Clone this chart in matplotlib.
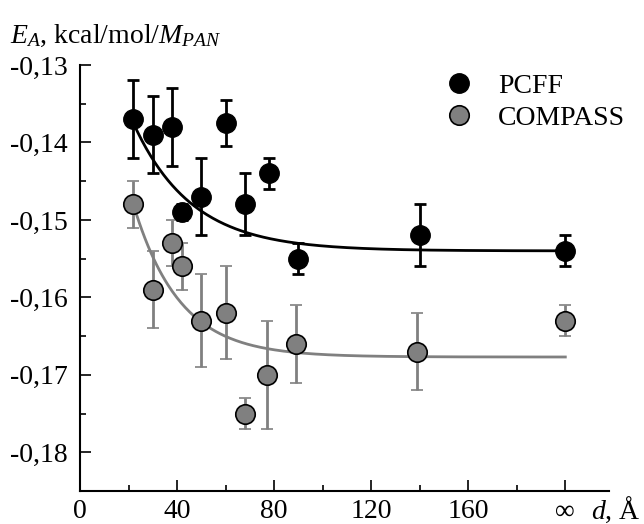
import numpy as np
import matplotlib
matplotlib.use("Agg")
import matplotlib.pyplot as plt
from matplotlib.lines import Line2D
from matplotlib.ticker import MultipleLocator

plt.rcParams['font.family'] = ['Liberation Serif', 'DejaVu Serif']
plt.rcParams['mathtext.fontset'] = 'custom'
plt.rcParams['mathtext.rm'] = 'Liberation Serif'
plt.rcParams['mathtext.it'] = 'Liberation Serif:italic'

# ---- data (d in Angstrom; 200 stands for infinity) ----
pcff_d = [22, 30, 38, 42, 50, 60, 68, 78, 90, 140, 200]
pcff_e = [-0.137, -0.139, -0.138, -0.149, -0.147, -0.1375, -0.148, -0.144, -0.155, -0.152, -0.154]
pcff_err = [0.005, 0.005, 0.005, 0.001, 0.005, 0.003, 0.004, 0.002, 0.002, 0.004, 0.002]

comp_d = [22, 30, 38, 42, 50, 60, 68, 77, 89, 139, 200]
comp_e = [-0.148, -0.159, -0.153, -0.156, -0.163, -0.162, -0.175, -0.170, -0.166, -0.167, -0.163]
comp_err = [0.003, 0.005, 0.003, 0.003, 0.006, 0.006, 0.002, 0.007, 0.005, 0.005, 0.002]

# exponential fit parameters: E = E_inf + A*exp(-(d - d0)/tau)
pcff_fit = dict(e_inf=-0.154, amp=0.0165, tau=24.0, d0=22, d1=200)
comp_fit = dict(e_inf=-0.1677, amp=0.0197, tau=19.0, d0=22, d1=200)

xticks = [0, 40, 80, 120, 160, 200]
xticklabels = ['0', '40', '80', '120', '160', '\u221e']
yticks = [-0.18, -0.17, -0.16, -0.15, -0.14, -0.13]
yticklabels = ['-0,18', '-0,17', '-0,16', '-0,15', '-0,14', '-0,13']

GRAY = '#808080'
FS = 20

fig = plt.figure(figsize=(6.44, 5.24), dpi=100)
ax = fig.add_axes([80/644, 1-491/524, (609-80)/644, (491-65)/524])


def fit_curve(p):
    d = np.linspace(p['d0'], p['d1'], 300)
    return d, p['e_inf'] + p['amp'] * np.exp(-(d - p['d0']) / p['tau'])


d, e = fit_curve(pcff_fit)
ax.plot(d, e, color='black', lw=2, zorder=2)
d, e = fit_curve(comp_fit)
ax.plot(d, e, color=GRAY, lw=2, zorder=2)

ax.errorbar(comp_d, comp_e, yerr=comp_err, fmt='o', color=GRAY, mfc=GRAY, mec='black',
            mew=1.2, ms=14, ecolor=GRAY, elinewidth=2, capsize=4, capthick=2, zorder=3)
ax.errorbar(pcff_d, pcff_e, yerr=pcff_err, fmt='o', color='black', mfc='black', mec='black',
            ms=14, ecolor='black', elinewidth=2, capsize=4, capthick=2, zorder=4)

ax.set_xlim(0, 218)
ax.set_ylim(-0.185, -0.13)
ax.set_xticks(xticks)
ax.set_xticklabels(xticklabels)
ax.set_yticks(yticks)
ax.set_yticklabels(yticklabels)
ax.xaxis.set_minor_locator(MultipleLocator(20))
ax.yaxis.set_minor_locator(MultipleLocator(0.005))
ax.tick_params(which='both', direction='in', width=1.2, labelsize=FS)
ax.tick_params(axis='y', pad=9)
ax.tick_params(axis='x', pad=6)
ax.tick_params(which='major', length=8)
ax.tick_params(which='minor', length=4)
for s in ['top', 'right']:
    ax.spines[s].set_visible(False)
for s in ['left', 'bottom']:
    ax.spines[s].set_linewidth(1.5)

handles = [Line2D([], [], ls='none', marker='o', ms=14, mfc='black', mec='black'),
           Line2D([], [], ls='none', marker='o', ms=14, mfc=GRAY, mec='black', mew=1.2)]
fig.legend(handles, ['PCFF', 'COMPASS'], loc='upper right', bbox_to_anchor=(636/644, 1-62/524),
           frameon=False, fontsize=FS, handletextpad=0.6, labelspacing=0.25, borderaxespad=0,
           handlelength=1.6)

fig.text(10/644, 1-36/524, r'$E_A$, kcal/mol/$M_{PAN}$', fontsize=FS, va='center', ha='left')
fig.text(641/644, 1-510/524, r'$d$, Å', fontsize=FS, va='center', ha='right')

fig.savefig('out.png', dpi=100)
